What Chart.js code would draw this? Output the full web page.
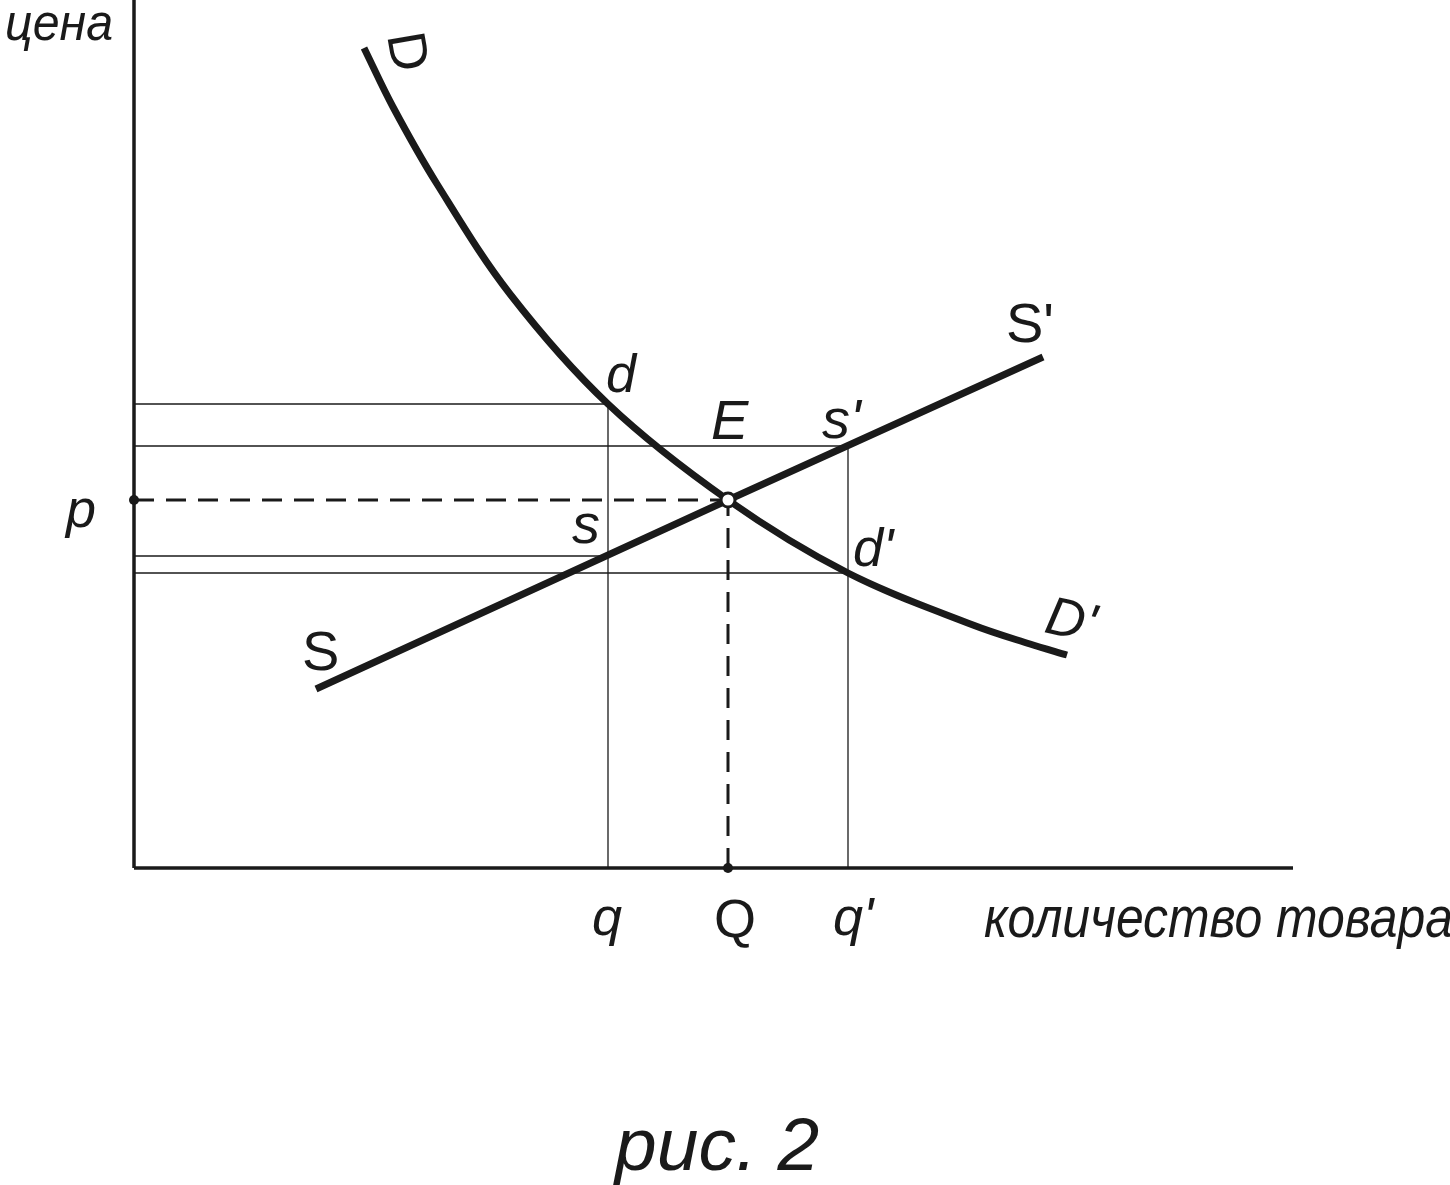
<!DOCTYPE html>
<html>
<head>
<meta charset="utf-8">
<script src="https://cdn.jsdelivr.net/npm/chart.js@4.4.1/dist/chart.umd.min.js"></script>
<style>
  html, body { margin: 0; padding: 0; background: #fff; }
  canvas { display: block; }
</style>
</head>
<body>
<canvas id="market" width="1450" height="1185"></canvas>
<script>
// demand curve D -> D'
const demandQ = [23.0, 25.9, 30.3, 37.6, 47.4, 59.4, 71.4, 83.9, 89.6, 93.3];
const demandP = [82.0, 76.1, 68.4, 57.4, 46.4, 36.8, 29.5, 24.3, 22.4, 21.3];

// supply line S -> S'
const supplyQ = [18.2, 59.4, 90.9];
const supplyP = [17.9, 36.8, 51.1];

// equilibrium E
const eqQ = 59.4;
const eqP = 36.8;

// quantities q, q' and the four guide prices (d, s', s, d')
const quantities = [47.4, 71.4];
const guidePrices = [46.4, 42.2, 31.2, 29.5];

const axisMaxQ = 115.9;
const axisMaxP = 86.8;

const INK = "#1a1a1a";

function pts(xs, ys) {
  return xs.map((x, i) => ({ x: x, y: ys[i] }));
}

function seg(x1, y1, x2, y2, extra) {
  return Object.assign({
    data: [{ x: x1, y: y1 }, { x: x2, y: y2 }],
    showLine: true,
    borderColor: INK,
    borderWidth: 1.3,
    pointRadius: 0,
    clip: false
  }, extra || {});
}

// thin guide lines: d -> q, s' -> q', s -> q, d' -> q'
const guides = [
  seg(0, guidePrices[0], quantities[0], guidePrices[0]),
  seg(0, guidePrices[1], quantities[1], guidePrices[1]),
  seg(0, guidePrices[2], quantities[0], guidePrices[2]),
  seg(0, guidePrices[3], quantities[1], guidePrices[3]),
  seg(quantities[0], 0, quantities[0], guidePrices[0]),
  seg(quantities[1], 0, quantities[1], guidePrices[1])
];

const dashed = [
  seg(0, eqP, eqQ, eqP, { borderWidth: 3, borderDash: [20, 12] }),
  seg(eqQ, 0, eqQ, eqP, { borderWidth: 3, borderDash: [20, 12] })
];

const axes = [
  seg(0, 0, 0, axisMaxP, { borderWidth: 3.5 }),
  seg(0, 0, axisMaxQ, 0, { borderWidth: 3.5 })
];

// text labels, placed in data units (left / baseline)
const labels = [
  { t: "цена", x: -12.9, y: 82.8, size: 52, italic: true, sx: 0.93 },
  { t: "D", x: 27.1, y: 81.6, size: 54, italic: false, rot: 80, center: true },
  { t: "d", x: 47.2, y: 47.6, size: 54, italic: true },
  { t: "E", x: 57.7, y: 42.9, size: 56, italic: true },
  { t: "s'", x: 68.8, y: 43.0, size: 56, italic: true },
  { t: "s", x: 43.8, y: 32.5, size: 56, italic: true },
  { t: "d'", x: 71.9, y: 30.2, size: 54, italic: true },
  { t: "S", x: 16.8, y: 19.8, size: 56, italic: false },
  { t: "S'", x: 87.2, y: 52.6, size: 56, italic: false },
  { t: "D'", x: 90.9, y: 23.6, size: 54, italic: true, rot: 12 },
  { t: "p", x: -6.8, y: 34.1, size: 54, italic: true },
  { t: "q", x: 45.8, y: -6.7, size: 54, italic: true },
  { t: "Q", x: 58.0, y: -6.9, size: 54, italic: false },
  { t: "q'", x: 69.9, y: -6.7, size: 54, italic: true },
  { t: "количество товара", x: 85.0, y: -6.9, size: 58, italic: true, sx: 0.86 },
  { t: "рис. 2", x: 48.1, y: -30.2, size: 75, italic: true }
];

const labelPlugin = {
  id: "labels",
  afterDatasetsDraw(chart) {
    const ctx = chart.ctx;
    const xs = chart.scales.x;
    const ys = chart.scales.y;
    ctx.save();
    ctx.fillStyle = INK;
    labels.forEach(l => {
      const px = xs.getPixelForValue(l.x);
      const py = ys.getPixelForValue(l.y);
      ctx.save();
      ctx.font = (l.italic ? "italic " : "") + l.size + "px 'Liberation Sans', Arial, sans-serif";
      ctx.translate(px, py);
      if (l.rot) ctx.rotate(l.rot * Math.PI / 180);
      if (l.sx) ctx.scale(l.sx, 1);
      if (l.center) {
        ctx.textAlign = "center";
        ctx.textBaseline = "middle";
      } else {
        ctx.textAlign = "left";
        ctx.textBaseline = "alphabetic";
      }
      ctx.fillText(l.t, 0, 0);
      ctx.restore();
    });
    ctx.restore();
  }
};

new Chart(document.getElementById("market"), {
  type: "scatter",
  data: {
    datasets: [
      {
        data: [{ x: eqQ, y: eqP }],
        pointRadius: 7,
        pointBackgroundColor: "#fff",
        pointBorderColor: INK,
        pointBorderWidth: 3,
        clip: false
      },
      {
        data: [{ x: 0, y: eqP }, { x: eqQ, y: 0 }],
        pointRadius: 5,
        pointBackgroundColor: INK,
        pointBorderWidth: 0,
        clip: false
      },
      {
        data: pts(supplyQ, supplyP),
        showLine: true,
        borderColor: INK,
        borderWidth: 7,
        pointRadius: 0,
        clip: false
      },
      {
        data: pts(demandQ, demandP),
        showLine: true,
        borderColor: INK,
        borderWidth: 7,
        pointRadius: 0,
        tension: 0.35,
        clip: false
      },
      ...dashed,
      ...guides,
      ...axes
    ]
  },
  options: {
    responsive: false,
    animation: false,
    devicePixelRatio: 1,
    layout: { autoPadding: false, padding: { left: 134, right: 157, top: 0, bottom: 317 } },
    plugins: { legend: { display: false }, tooltip: { enabled: false } },
    scales: {
      x: { type: "linear", min: 0, max: axisMaxQ, display: false },
      y: { type: "linear", min: 0, max: axisMaxP, display: false }
    }
  },
  plugins: [labelPlugin]
});
</script>
</body>
</html>
